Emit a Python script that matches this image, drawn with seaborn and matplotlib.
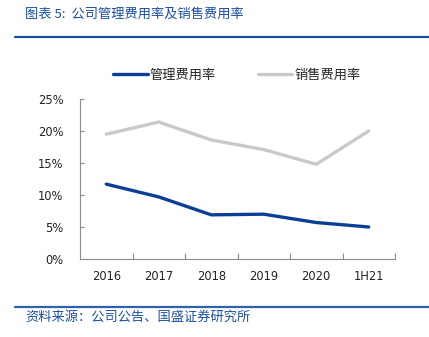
import matplotlib
matplotlib.use("Agg")
import matplotlib.pyplot as plt
from matplotlib.lines import Line2D
from matplotlib.ticker import FixedLocator, FuncFormatter
import seaborn as sns
import pandas as pd

# Data
categories = ["2016", "2017", "2018", "2019", "2020", "1H21"]
admin_rate = [11.7, 9.7, 6.9, 7.0, 5.7, 5.0]      # 管理费用率 (%)
sales_rate = [19.5, 21.4, 18.6, 17.1, 14.8, 20.0]  # 销售费用率 (%)
series_names = ["管理费用率", "销售费用率"]
y_ticks = [0, 5, 10, 15, 20, 25]

sns.set_theme(style="white")
plt.rcParams["font.family"] = ["Noto Sans CJK SC", "DejaVu Sans"]

blue = "#0b3f96"
gray = "#c9c9c9"
title_blue = "#1d4f9e"

df = pd.DataFrame({
    "x": list(range(len(categories))) * 2,
    "value": admin_rate + sales_rate,
    "series": [series_names[0]] * len(categories) + [series_names[1]] * len(categories),
})

fig = plt.figure(figsize=(4.29, 3.37), dpi=100)
ax = fig.add_axes([80 / 429, 78 / 337, 315 / 429, 160 / 337])

sns.lineplot(data=df, x="x", y="value", hue="series",
             palette={series_names[0]: blue, series_names[1]: gray},
             linewidth=2.4, ax=ax, legend=False, sort=False)

ax.set_xlim(-0.5, len(categories) - 0.5)
ax.set_ylim(0, 25)
ax.set_xlabel("")
ax.set_ylabel("")

ax.xaxis.set_major_locator(FixedLocator(range(len(categories))))
ax.set_xticklabels(categories)
ax.xaxis.set_minor_locator(FixedLocator([i + 0.5 for i in range(len(categories))]))
ax.set_yticks(y_ticks)
ax.yaxis.set_major_formatter(FuncFormatter(lambda v, p: f"{v:.0f}%"))

for s in ["top", "right"]:
    ax.spines[s].set_visible(False)
for s in ["left", "bottom"]:
    ax.spines[s].set_color("#8c8c8c")
    ax.spines[s].set_linewidth(0.8)

ax.tick_params(axis="x", which="major", length=0, pad=8, labelsize=8.3, labelcolor="#222222")
ax.tick_params(axis="x", which="minor", direction="in", length=4, width=0.8,
               color="#8c8c8c", bottom=True)
ax.tick_params(axis="y", which="major", direction="in", length=3, width=0.8,
               color="#8c8c8c", pad=12, labelsize=8.3, labelcolor="#222222", left=True)
for lab in ax.get_xticklabels() + ax.get_yticklabels():
    lab.set_family("DejaVu Sans")

handles = [Line2D([], [], color=blue, linewidth=2.4),
           Line2D([], [], color=gray, linewidth=2.4)]
fig.legend(handles, series_names, loc="center", bbox_to_anchor=(237 / 429, 1 - 75 / 337),
           ncol=2, frameon=False, fontsize=9.5, handlelength=2.6, handletextpad=0.15,
           columnspacing=3.2)

# Header and footer
fig.text(25 / 429, 1 - 14 / 337, "图表 5:  公司管理费用率及销售费用率", fontsize=9.5,
         color=title_blue, style="italic", va="center", ha="left")
fig.add_artist(Line2D([15 / 429, 1.0], [1 - 37 / 337] * 2, color="#1a4fa0", linewidth=1.6))
fig.add_artist(Line2D([15 / 429, 1.0], [1 - 307 / 337] * 2, color="#2f62aa", linewidth=1.6))
fig.text(25 / 429, 1 - 317 / 337, "资料来源：公司公告、国盛证券研究所", fontsize=9.5,
         color=title_blue, style="italic", va="center", ha="left")

fig.savefig("out.png", dpi=100)
